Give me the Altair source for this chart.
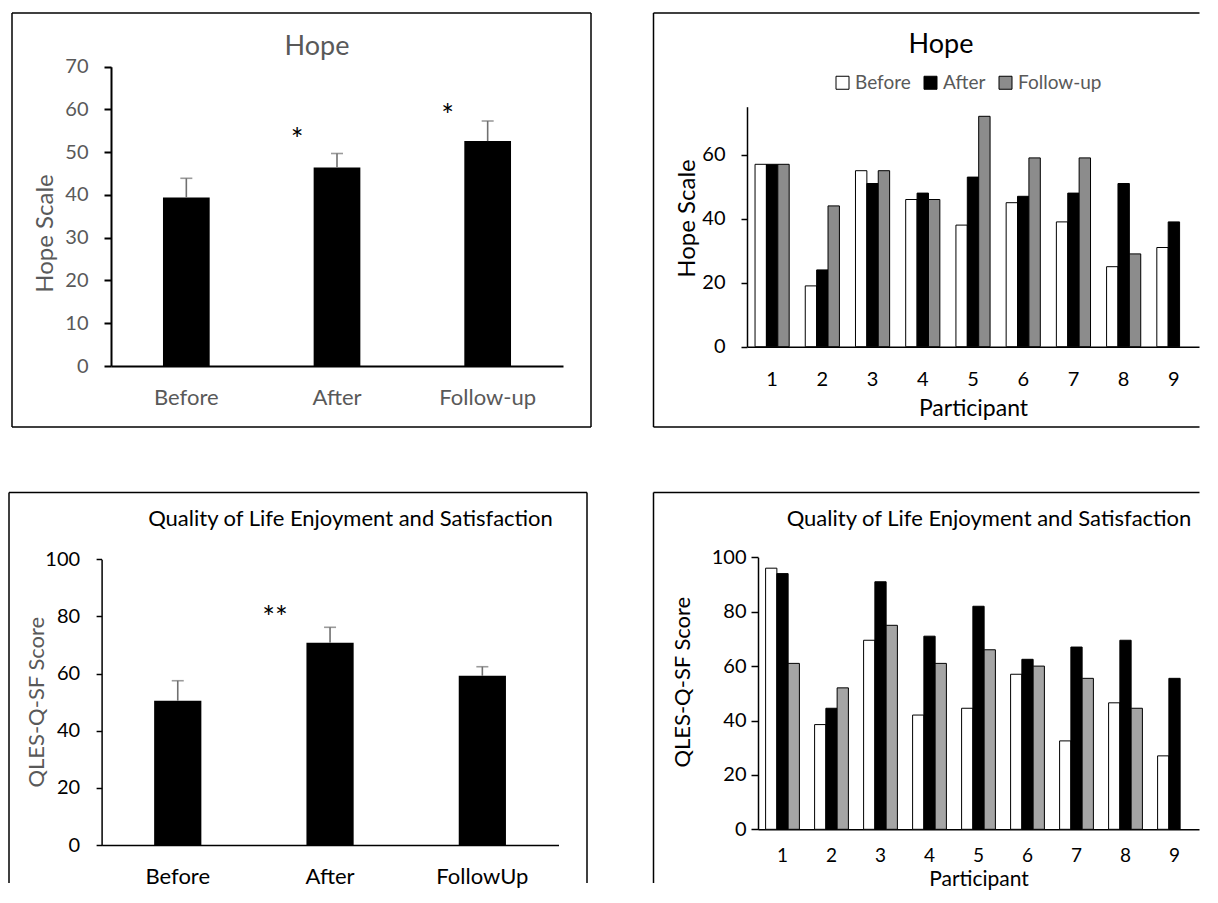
import altair as alt
import pandas as pd

FONT = "Lato"
GRAY_TXT = "#595959"

# ---------------- data ----------------
hope_phase = ["Before", "After", "Follow-up"]
hope_mean = [39.4, 46.4, 52.6]
hope_err = [4.5, 3.3, 4.7]
hope_sig_phase = ["After", "Follow-up"]
hope_sig_y = [50.6, 56.2]
hope_sig_text = ["*", "*"]

participants = ["1", "2", "3", "4", "5", "6", "7", "8", "9"]
hope_before = [57, 19, 55, 46, 38, 45, 39, 25, 31]
hope_after = [57, 24, 51, 48, 53, 47, 48, 51, 39]
hope_follow = [57, 44, 55, 46, 72, 59, 59, 29, None]

qles_phase = ["Before", "After", "FollowUp"]
qles_mean = [50.5, 70.8, 59.2]
qles_err = [7.0, 5.4, 3.2]
qles_sig_phase = ["After"]
qles_sig_y = [75.8]
qles_sig_text = ["**"]

qles_before = [96, 38.5, 69.5, 42, 44.5, 57, 32.5, 46.5, 27]
qles_after = [94, 44.5, 91, 71, 82, 62.5, 67, 69.5, 55.5]
qles_follow = [61, 52, 75, 61, 66, 60, 55.5, 44.5, None]

part_phase = ["Before", "After", "Follow-up"]

TITLE_HOPE = "Hope"
TITLE_QLES = "Quality of Life Enjoyment and Satisfaction"


def long_table(before, after, follow):
    rows = []
    for i, p in enumerate(participants):
        for ph, vals in zip(part_phase, [before, after, follow]):
            if vals[i] is not None:
                rows.append({"participant": p, "phase": ph, "value": vals[i]})
    return pd.DataFrame(rows)


def frame_rule(x1=None, x2=None, y1=None, y2=None):
    enc = {}
    if x1 is not None:
        enc["x"] = alt.value(x1)
    if x2 is not None:
        enc["x2"] = alt.value(x2)
    if y1 is not None:
        enc["y"] = alt.value(y1)
    if y2 is not None:
        enc["y2"] = alt.value(y2)
    return alt.Chart(alt.Data(values=[{}])).mark_rule(color="black", strokeWidth=1.5).encode(**enc)


def title_text(text, size, color, cx, by):
    return alt.Chart(alt.Data(values=[{}])).mark_text(
        text=text, fontSize=size, font=FONT, color=color, align="center",
        baseline="alphabetic").encode(x=alt.value(cx), y=alt.value(by))


def summary_panel(phases, means, errs, sig_phase, sig_y, sig_text, ymax, ystep,
                  xrange, yrange, w, h, yoff, xoff, xlabpad, ylabpad, ytick,
                  tick_color, label_color, ytitle, ytitle_size, ytitle_x, ytitle_y,
                  title, title_size, title_color, title_x, title_y,
                  sig_dx, sig_size, frames, axis_w):
    df = pd.DataFrame({"phase": phases, "mean": means,
                       "upper": [m + e for m, e in zip(means, errs)]})
    sig = pd.DataFrame({"phase": sig_phase, "y": sig_y, "txt": sig_text})
    xs = alt.Scale(domain=phases, range=xrange, paddingInner=0.69, paddingOuter=0.345)
    ys = alt.Scale(domain=[0, ymax], range=yrange, nice=False, zero=True)
    xax = alt.Axis(title=None, labelAngle=0, offset=xoff, domainColor="black", domainWidth=axis_w,
                   ticks=False, tickSize=0, labelPadding=xlabpad, labelBaseline="alphabetic",
                   labelFontSize=22, labelColor=label_color, labelFont=FONT)
    yax = alt.Axis(title=ytitle, values=list(range(0, ymax + 1, ystep)), offset=yoff, grid=False,
                   domainColor="black", domainWidth=axis_w, tickColor="black", tickSize=ytick,
                   tickWidth=axis_w, labelPadding=ylabpad, labelFontSize=20, labelColor=tick_color,
                   labelFont=FONT, titleFont=FONT, titleFontSize=ytitle_size, titleColor=GRAY_TXT,
                   titleFontWeight="normal", titleX=ytitle_x, titleY=ytitle_y, titleAngle=270,
                   titleBaseline="alphabetic", titleAlign="center")
    X = alt.X("phase:N", scale=xs, sort=phases, axis=xax)
    bars = alt.Chart(df).mark_bar(color="black").encode(
        x=X, y=alt.Y("mean:Q", scale=ys, axis=yax))
    err = alt.Chart(df).mark_rule(color="#707070", strokeWidth=1.6).encode(
        x=X, y=alt.Y("mean:Q", scale=ys, axis=yax), y2="upper:Q")
    cap = alt.Chart(df).mark_tick(color="#707070", thickness=1.6, size=12).encode(
        x=X, y=alt.Y("upper:Q", scale=ys, axis=yax))
    stars = alt.Chart(sig).mark_text(fontSize=sig_size, dx=sig_dx, baseline="alphabetic",
                                     color="black", font=FONT).encode(
        x=X, y=alt.Y("y:Q", scale=ys, axis=yax), text="txt:N")
    layers = [bars, err, cap, stars, title_text(title, title_size, title_color, title_x, title_y)]
    layers += [frame_rule(**f) for f in frames]
    return alt.layer(*layers).properties(width=w, height=h)


def participant_panel(df, colors, ymax, yvals, xrange, pin, yrange, w, h, yoff, xoff,
                      xlabpad, xlabsize, ylabpad, ytick, ytitle, ytitle_size, ytitle_x,
                      ytitle_y, ptitle_size, ptitle_y, title, title_size, title_x, title_y,
                      legend, frames):
    xs = alt.Scale(domain=participants, range=xrange, paddingInner=pin, paddingOuter=pin / 2)
    ys = alt.Scale(domain=[0, ymax], range=yrange, nice=False, zero=True)
    xax = alt.Axis(title="Participant", labelAngle=0, offset=xoff, domainColor="black",
                   domainWidth=1.5, ticks=False, tickSize=0, labelPadding=xlabpad,
                   labelBaseline="alphabetic", labelFontSize=xlabsize, labelColor="black",
                   labelFont=FONT, titleFont=FONT, titleFontSize=ptitle_size,
                   titleFontWeight="normal", titleColor="black", titleY=ptitle_y,
                   titleBaseline="alphabetic")
    yax = alt.Axis(title=ytitle, values=yvals, offset=yoff, grid=False, domainColor="black",
                   domainWidth=1.5, tickColor="black", tickSize=ytick, tickWidth=1.5,
                   labelPadding=ylabpad, labelFontSize=20, labelColor="black", labelFont=FONT,
                   titleFont=FONT, titleFontSize=ytitle_size, titleColor="black",
                   titleFontWeight="normal", titleX=ytitle_x, titleY=ytitle_y, titleAngle=270,
                   titleBaseline="alphabetic", titleAlign="center")
    fill = alt.Fill("phase:N", scale=alt.Scale(domain=part_phase, range=colors),
                    legend=legend)
    bars = alt.Chart(df).mark_bar(stroke="black", strokeWidth=1).encode(
        x=alt.X("participant:N", scale=xs, sort=participants, axis=xax),
        xOffset=alt.XOffset("phase:N", scale=alt.Scale(domain=part_phase, paddingInner=0,
                                                       paddingOuter=0)),
        y=alt.Y("value:Q", scale=ys, axis=yax),
        fill=fill)
    layers = [bars, title_text(title, title_size, "black", title_x, title_y)]
    layers += [frame_rule(**f) for f in frames]
    return alt.layer(*layers).properties(width=w, height=h)


# ---------------- panels ----------------
p1 = summary_panel(
    hope_phase, hope_mean, hope_err, hope_sig_phase, hope_sig_y, hope_sig_text, 70, 10,
    xrange=[102, 554], yrange=[354, 54.7], w=582, h=416, yoff=-102, xoff=-62,
    xlabpad=38.9, ylabpad=16, ytick=7, tick_color=GRAY_TXT, label_color=GRAY_TXT,
    ytitle="Hope Scale", ytitle_size=24, ytitle_x=-58.4, ytitle_y=221,
    title=TITLE_HOPE, title_size=27, title_color=GRAY_TXT, title_x=308, title_y=43,
    sig_dx=-40, sig_size=30,
    frames=[dict(x1=3, x2=582, y1=1), dict(x1=3, x2=582, y1=415),
            dict(x1=3, y1=1, y2=415), dict(x1=582, y1=1, y2=415)],
    axis_w=2)

hope_long = long_table(hope_before, hope_after, hope_follow)
p2 = participant_panel(
    hope_long, ["white", "black", "#8c8c8c"], 75, [0, 20, 40, 60],
    xrange=[93.5, 545.5], pin=0.32, yrange=[334.7, 94.7], w=546, h=416,
    yoff=-93.5, xoff=-81.3, xlabpad=38.5, xlabsize=20, ylabpad=16, ytick=6,
    ytitle="Hope Scale", ytitle_size=24, ytitle_x=-52.4, ytitle_y=206,
    ptitle_size=23, ptitle_y=68.6, title=TITLE_HOPE, title_size=27, title_x=287.5,
    title_y=41,
    legend=alt.Legend(title=None, orient="none", legendX=179.5, legendY=61,
                      direction="horizontal", symbolType="square", symbolSize=169,
                      symbolStrokeColor="black", symbolStrokeWidth=1, labelFontSize=19,
                      labelColor=GRAY_TXT, labelFont=FONT, labelOffset=3, columnPadding=10,
                      padding=0),
    frames=[dict(x1=0, x2=546, y1=1), dict(x1=0, x2=546, y1=415),
            dict(x1=0, y1=1, y2=415)])

p3 = summary_panel(
    qles_phase, qles_mean, qles_err, qles_sig_phase, qles_sig_y, qles_sig_text, 100, 20,
    xrange=[92.6, 549.5], yrange=[354, 68.3], w=582, h=392, yoff=-92.6, xoff=-38,
    xlabpad=38.6, ylabpad=16.5, ytick=5.5, tick_color="black", label_color="black",
    ytitle="QLES-Q-SF Score", ytitle_size=22, ytitle_x=-57.7, ytitle_y=210.7,
    title=TITLE_QLES, title_size=22, title_color="black", title_x=341.5, title_y=35,
    sig_dx=-55, sig_size=30,
    frames=[dict(x1=0, x2=578, y1=1.5), dict(x1=0, y1=1.5, y2=392),
            dict(x1=578, y1=1.5, y2=392)],
    axis_w=1.5)

qles_long = long_table(qles_before, qles_after, qles_follow)
p4 = participant_panel(
    qles_long, ["white", "black", "#a5a5a5"], 100, [0, 20, 40, 60, 80, 100],
    xrange=[104.5, 545.5], pin=0.31, yrange=[338.3, 66.3], w=546, h=392,
    yoff=-104.5, xoff=-53.7, xlabpad=32.5, xlabsize=19, ylabpad=5, ytick=7,
    ytitle="QLES-Q-SF Score", ytitle_size=22, ytitle_x=-68.1, ytitle_y=190.7,
    ptitle_size=21, ptitle_y=55.9, title=TITLE_QLES, title_size=22, title_x=335.5,
    title_y=35, legend=None,
    frames=[dict(x1=0, x2=546, y1=1.5), dict(x1=0, y1=1.5, y2=392)])

chart = alt.concat(
    p1, p2, p3, p4, columns=2, spacing={"row": 63, "column": 62.5}, bounds="flush"
).resolve_scale(
    fill="independent", xOffset="independent", x="independent", y="independent"
).resolve_legend(fill="independent").properties(
    padding={"left": 0, "top": 4, "right": 0, "bottom": 0}
).configure(font=FONT).configure_view(stroke=None)

chart.save("out.html", embed_options={"renderer": "svg", "actions": False})
